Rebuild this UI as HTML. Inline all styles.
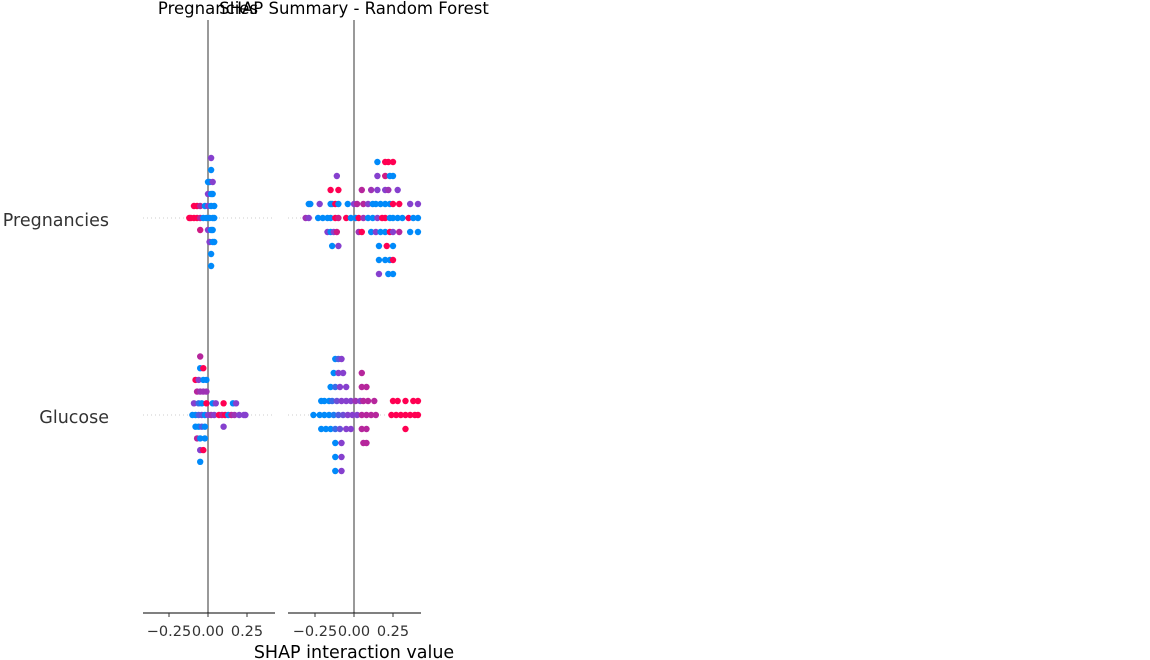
<!DOCTYPE html>
<html><head><meta charset="utf-8"><style>
html,body{margin:0;padding:0;background:#fff;width:1150px;height:660px;overflow:hidden}
svg{display:block;font-family:"DejaVu Sans","Liberation Sans",sans-serif}
</style></head><body>
<svg id="chart" width="1150" height="660" viewBox="0 0 1150 660">
<text x="208" y="14" text-anchor="middle" font-size="16.5" fill="#000">Pregnancies</text>
<text x="354" y="14" text-anchor="middle" font-size="16.5" fill="#000">SHAP Summary - Random Forest</text>
<text x="109" y="226" text-anchor="end" font-size="17.5" fill="#333">Pregnancies</text>
<text x="109" y="423" text-anchor="end" font-size="17.5" fill="#333">Glucose</text>
<text x="354" y="658" text-anchor="middle" font-size="17.5" fill="#000">SHAP interaction value</text>
<g id="g"></g>
</svg>
<script>
const ticks=[-0.25,0,0.25];
const tickLabels=["\u22120.25","0.00","0.25"];
const rows=["Pregnancies","Glucose"];
// points: [shap value, stack layer, feature value 0..1]
const p1Preg=[[0.02,-5,.5],[0.02,-4,0],[0,-3,0],[0.01,-3,0],[0.03,-3,.5],[0,-2,.5],[0.02,-2,0],[0.03,-2,0],
[-0.09,-1,1],[-0.07,-1,1],[-0.05,-1,.7],[-0.02,-1,0],[0,-1,.5],[0.02,-1,0],[0.04,-1,0],
[-0.12,0,1],[-0.11,0,1],[-0.09,0,1],[-0.07,0,1],[-0.05,0,.7],[-0.03,0,0],[-0.01,0,0],[0.01,0,0],[0.03,0,0],[0.04,0,0],
[-0.05,1,.8],[0,1,.5],[0.02,1,0],[0.03,1,0],[0.01,2,.5],[0.03,2,0],[0.04,2,0],[0.02,3,0],[0.02,4,0]];
const p2Preg=[[0.15,-4,0],[0.2,-4,1],[0.22,-4,1],[0.25,-4,1],
[-0.11,-3,.5],[0.15,-3,.5],[0.2,-3,.8],[0.23,-3,0],[0.25,-3,0],
[-0.15,-2,1],[-0.1,-2,1],[0.05,-2,.7],[0.11,-2,.6],[0.15,-2,.5],[0.2,-2,.5],[0.22,-2,.6],[0.28,-2,.5],
[-0.29,-1,0],[-0.28,-1,0],[-0.22,-1,.5],[-0.15,-1,0],[-0.14,-1,0],[-0.12,-1,1],[-0.1,-1,0],[-0.04,-1,0],[0,-1,.5],[0.02,-1,.7],[0.06,-1,.7],[0.09,-1,.5],[0.12,-1,0],[0.14,-1,0],[0.17,-1,0],[0.2,-1,0],[0.23,-1,0],[0.25,-1,1],[0.29,-1,1],[0.36,-1,.5],[0.41,-1,.5],
[-0.31,0,.6],[-0.29,0,.5],[-0.23,0,0],[-0.2,0,0],[-0.17,0,0],[-0.15,0,0],[-0.12,0,1],[-0.1,0,.8],[-0.05,0,1],[-0.02,0,0],[0.01,0,0],[0.03,0,1],[0.06,0,.6],[0.09,0,0],[0.12,0,0],[0.15,0,.5],[0.18,0,1],[0.2,0,1],[0.23,0,0],[0.25,0,0],[0.28,0,0],[0.31,0,0],[0.35,0,1],[0.38,0,0],[0.41,0,0],
[-0.17,1,.5],[-0.15,1,0],[-0.13,1,.5],[-0.11,1,.8],[0.03,1,.6],[0.05,1,1],[0.11,1,0],[0.14,1,.5],[0.17,1,0],[0.2,1,0],[0.23,1,1],[0.25,1,.5],[0.29,1,.7],[0.36,1,0],[0.41,1,0],
[-0.14,2,0],[-0.1,2,.5],[0.16,2,0],[0.21,2,1],[0.25,2,0],
[0.16,3,0],[0.2,3,0],[0.23,3,0],[0.25,3,1],[0.16,4,.5],[0.22,4,0],[0.25,4,0]];
const p1Gluc=[[-0.05,-5,.7],[-0.05,-4,0],[-0.03,-4,1],
[-0.08,-3,1],[-0.06,-3,.5],[-0.03,-3,0],[-0.01,-3,0],
[-0.07,-2,.7],[-0.05,-2,.6],[-0.03,-2,.6],[-0.01,-2,.6],
[-0.09,-1,.5],[-0.06,-1,.2],[-0.04,-1,0],[-0.01,-1,1],[0.03,-1,0],[0.05,-1,.5],[0.1,-1,1],[0.16,-1,0],[0.18,-1,.5],
[-0.1,0,0],[-0.08,0,0],[-0.06,0,.3],[-0.04,0,.4],[-0.02,0,0],[0,0,.5],[0.02,0,.6],[0.04,0,.5],[0.07,0,1],[0.09,0,.8],[0.11,0,1],[0.13,0,0],[0.15,0,.7],[0.17,0,.6],[0.2,0,.5],[0.23,0,.5],[0.24,0,.5],
[-0.08,1,0],[-0.06,1,0],[-0.04,1,.3],[-0.02,1,0],[0.1,1,.5],
[-0.07,2,.7],[-0.05,2,0],[-0.02,2,0],[-0.05,3,.5],[-0.03,3,1],[-0.05,4,0]];
const p2Gluc=[[-0.12,-4,0],[-0.1,-4,.3],[-0.08,-4,.5],
[-0.13,-3,0],[-0.1,-3,.5],[-0.07,-3,.5],[0.05,-3,.7],
[-0.15,-2,0],[-0.12,-2,.2],[-0.09,-2,.5],[-0.05,-2,.5],[0.05,-2,.7],[0.08,-2,.7],
[-0.21,-1,0],[-0.19,-1,0],[-0.16,-1,0],[-0.14,-1,.2],[-0.11,-1,.4],[-0.08,-1,.5],[-0.05,-1,.5],[-0.02,-1,.5],[0.01,-1,.6],[0.04,-1,.5],[0.06,-1,.7],[0.09,-1,.7],[0.13,-1,.7],[0.25,-1,1],[0.28,-1,1],[0.33,-1,1],[0.38,-1,1],[0.41,-1,1],
[-0.26,0,0],[-0.22,0,0],[-0.19,0,0],[-0.16,0,0],[-0.13,0,.1],[-0.1,0,.3],[-0.07,0,.4],[-0.04,0,.5],[-0.01,0,.5],[0.02,0,.5],[0.05,0,.7],[0.08,0,.7],[0.11,0,.7],[0.14,0,.7],[0.24,0,1],[0.27,0,1],[0.3,0,1],[0.33,0,1],[0.36,0,1],[0.39,0,1],[0.41,0,1],
[-0.21,1,0],[-0.18,1,0],[-0.15,1,0],[-0.12,1,.2],[-0.09,1,.4],[-0.05,1,.5],[-0.02,1,.5],[0.05,1,.7],[0.08,1,.7],[0.33,1,1],
[-0.12,2,0],[-0.08,2,.5],[0.06,2,.7],[0.08,2,.7],[-0.12,3,0],[-0.08,3,.5],[-0.12,4,0],[-0.08,4,.5]];

(function(){
const NS="http://www.w3.org/2000/svg";
const g=document.getElementById('g');
const panels=[{x0:143,x1:275,zero:208,name:'panel-pregnancies',sets:[p1Preg,p1Gluc],sp:[12,11.7]},
              {x0:288,x1:421,zero:354,name:'panel-glucose',sets:[p2Preg,p2Gluc],sp:[14,14]}];
const rowY=[218,415];const plotTop=20,plotBottom=613,scale=156;
function mk(t,a){const e=document.createElementNS(NS,t);for(const k in a)e.setAttribute(k,a[k]);return e;}
function col(v){const s=[[0,138,250],[134,64,206],[255,0,82]];let a,b,t;if(v<=.5){a=s[0];b=s[1];t=v/.5;}else{a=s[1];b=s[2];t=(v-.5)/.5;}
return 'rgb('+a.map((c,i)=>Math.round(c+(b[i]-c)*t)).join(',')+')';}
panels.forEach((p)=>{
  const xs=v=>p.zero+v*scale;
  const pg=mk('g',{});
  
  
  g.appendChild(pg);
  rowY.forEach((y,ri)=>{const l=mk('line',{x1:p.x0,x2:p.x1,y1:y,y2:y,stroke:'#ccc','stroke-width':1,'stroke-dasharray':'1 3'});
    
    
    pg.appendChild(l);});
  const z=mk('line',{x1:xs(0),x2:xs(0),y1:plotTop,y2:plotBottom,stroke:'#999','stroke-width':2});
  
  
  pg.appendChild(z);
  p.sets.forEach((pts,ri)=>{pts.forEach(d=>{const cx=xs(d[0]);if(cx<p.x0||cx>p.x1)return;
    const c=mk('circle',{cx:cx,cy:rowY[ri]+d[1]*p.sp[ri],r:3.2,fill:col(d[2])});
    
    
    pg.appendChild(c);});});
  const ax=mk('line',{x1:p.x0,x2:p.x1,y1:plotBottom,y2:plotBottom,stroke:'#000','stroke-width':1});
  
  
  pg.appendChild(ax);
  ticks.forEach((t,i)=>{const tl=mk('line',{x1:xs(t),x2:xs(t),y1:plotBottom,y2:plotBottom+4,stroke:'#333'});
    
    
    pg.appendChild(tl);
    const tx=mk('text',{x:xs(t),y:636,'text-anchor':'middle','font-size':14.5,fill:'#333'});
    tx.textContent=tickLabels[i];
    
    
    pg.appendChild(tx);});
});
})();
</script>
</body></html>
